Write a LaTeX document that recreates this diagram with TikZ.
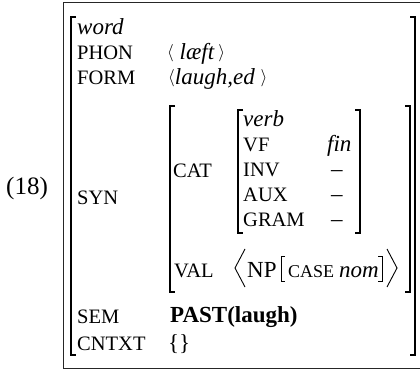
\documentclass[tikz,border=0pt]{standalone}
\usepackage{fontspec}
\setmainfont{Liberation Serif}
\tikzset{
  lbl/.style={anchor=base west, inner sep=0pt, font=\fontsize{20.5}{21}\selectfont},
  val/.style={anchor=base west, inner sep=0pt, font=\fontsize{23}{24}\selectfont},
  brk/.style={line width=1.5pt},
  ang/.style={line width=0.9pt, line join=miter}
}
\newcommand{\avl}{\raisebox{2pt}{\fontsize{17}{17}\selectfont$\langle$}}
\newcommand{\avr}{\raisebox{2pt}{\fontsize{17}{17}\selectfont$\rangle$}}
\begin{document}
\begin{tikzpicture}[x=1pt,y=-1pt]
	\useasboundingbox (0,0) rectangle (420,371);
	\draw[line width=1pt, black!85] (63,3) rectangle (424,368);
	\node[anchor=base west, inner sep=0pt, font=\fontsize{25}{26}\selectfont] (num) at (6,195) {(18)};
	% outer matrix
	\draw[brk] (76,17) -- (71,17) -- (71,355) -- (76,355);
	\draw[brk] (410,17) -- (415,17) -- (415,355) -- (410,355);
	\node[val] (word) at (77,35) {\textit{word}};
	\node[lbl] (phon) at (77,60) {PHON};
	\node[lbl] (form) at (77,85) {FORM};
	\node[val] (phonv) at (167,60) {\avl\ \textit{læft}\,\avr};
	\node[val] (formv) at (168,85) {\avl\textit{laugh,ed}\ \avr};
	\node[lbl] (syn) at (77,205) {SYN};
	\node[lbl] (sem) at (77,323) {SEM};
	\node[val] (semv) at (170,322) {\textbf{PAST(laugh)}};
	\node[lbl] (cntxt) at (77,350) {CNTXT};
	\node[val] (cntxtv) at (168,350) {\{\}};
	% SYN matrix
	\draw[brk] (175,106) -- (170,106) -- (170,292) -- (175,292);
	\draw[brk] (405,106) -- (410,106) -- (410,292) -- (405,292);
	\node[lbl] (cat) at (173,178) {CAT};
	\node[lbl] (val) at (174,277) {VAL};
	% CAT matrix
	\draw[brk] (243,110) -- (238,110) -- (238,233) -- (243,233);
	\draw[brk] (355,110) -- (360,110) -- (360,233) -- (355,233);
	\node[val] (verb) at (243,127) {\textit{verb}};
	\node[lbl] (vf) at (243,152) {VF};
	\node[val] (fin) at (327,152) {\textit{fin}};
	\foreach \r/\y in {INV/177, AUX/202, GRAM/227}{
		\node[lbl] (f\r) at (243,\y) {\r};
		\node[val] (v\r) at (331,\y) {–};
	}
	% VAL list
	\draw[ang] (245,249) -- (235,268) -- (245,287);
	\node[val] (np) at (247,277) {NP};
	\draw[brk, line width=1pt] (285,257) -- (281,257) -- (281,281) -- (285,281);
	\node[lbl, font=\fontsize{18}{19}\selectfont] (case) at (288,277) {CASE};
	\node[val] (nom) at (339,277) {\textit{nom}};
	\draw[brk, line width=1pt] (378,257) -- (382,257) -- (382,281) -- (378,281);
	\draw[ang] (387,249) -- (397,268) -- (387,287);
\end{tikzpicture}
\end{document}
